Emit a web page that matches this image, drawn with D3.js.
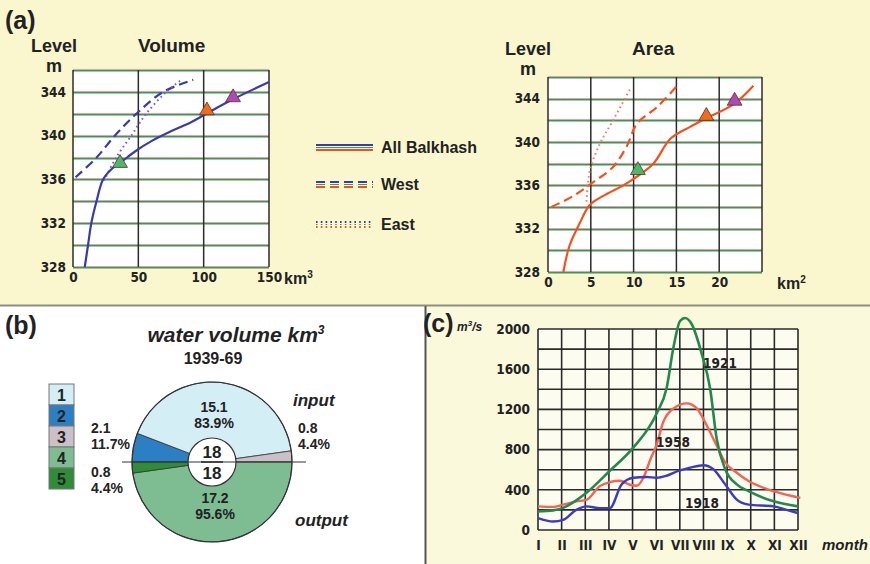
<!DOCTYPE html>
<html>
<head>
<meta charset="utf-8">
<script src="https://cdnjs.cloudflare.com/ajax/libs/d3/7.8.5/d3.min.js"></script>
<style>
  body { margin: 0; background: #fff; }
  svg { display: block; }
  text { font-family: "Liberation Sans", Arial, sans-serif; font-weight: bold; fill: #222; }
  text.cond { font-family: "DejaVu Sans Condensed", "Liberation Sans Narrow", sans-serif; }
</style>
</head>
<body>
<svg id="chart"></svg>
<script>
// ---- (a) level / volume / area curves ----
var levelTicks = [328, 332, 336, 340, 344];
var volTicks = [0, 50, 100, 150];
var areaTicks = [0, 5, 10, 15, 20];

var volAllX = [9, 11.5, 14, 18, 23, 30, 37, 48, 60, 75, 90, 102, 122, 150];
var volAllY = [328, 330, 332, 334, 336, 337, 337.6, 338.6, 339.5, 340.4, 341.2, 342, 343.3, 344.9];
var volWestX = [2, 18, 32, 48.5, 69, 92];
var volWestY = [336.2, 338, 340, 342, 344, 345.1];
var volEastX = [23.7, 33, 44.6, 56, 71.4, 83];
var volEastY = [335.9, 338, 340, 342, 344, 345.1];
var volMarkX = [36, 102.5, 122.5];
var volMarkY = [337.4, 342.2, 343.4];

var areaAllX = [1.8, 2.5, 3.7, 4.9, 6.4, 8.8, 10.0, 12.3, 14.3, 16.6, 18.5, 21.7, 24.0];
var areaAllY = [328, 330.4, 332.5, 334.2, 335.0, 336.0, 336.6, 338.0, 340.3, 341.4, 342.2, 343.5, 345.2];
var areaWestX = [0.4, 2.9, 5.3, 7.6, 9.2, 10.4, 12.7, 15.0];
var areaWestY = [334.0, 335.0, 336.3, 337.7, 339.6, 341.7, 343.2, 345.1];
var areaEastX = [4.5, 4.9, 6.1, 7.6, 9.6];
var areaEastY = [334.5, 337.4, 339.9, 342.0, 344.9];
var areaMarkX = [10.5, 18.5, 21.8];
var areaMarkY = [337.3, 342.3, 343.7];

var markColors = ["#4cb86a", "#f26a1b", "#b048b8"];
var legendNames = ["All Balkhash", "West", "East"];

// ---- (b) water balance 1939-69 ----
var inputIds = [2, 1, 3];
var inputValues = [2.1, 15.1, 0.8];
var inputPct = ["11.7%", "83.9%", "4.4%"];
var outputIds = [4, 5];
var outputValues = [17.2, 0.8];
var outputPct = ["95.6%", "4.4%"];
var pieColors = {1: "#d4eef6", 2: "#2c7fc3", 3: "#cbbfc8", 4: "#7dbd91", 5: "#2f8c38"};

// ---- (c) monthly discharge ----
var monthLabels = ["I", "II", "III", "IV", "V", "VI", "VII", "VIII", "IX", "X", "XI", "XII"];
var flowTicks = [0, 400, 800, 1200, 1600, 2000];
var m1921 = [1, 1.64, 2.06, 3.05, 4.04, 5.03, 6.02, 6.44, 6.73, 7.01, 7.22, 7.5, 7.93, 8.28, 8.56, 8.92, 9.41, 9.91, 10.97, 12];
var q1921 = [185, 195, 220, 370, 590, 820, 1160, 1410, 1815, 2080, 2110, 2050, 1750, 1410, 907, 605, 454, 386, 285, 235];
var m1958 = [1, 1.64, 2.06, 2.62, 3.05, 3.62, 4.04, 4.46, 4.89, 5.17, 5.46, 5.75, 6.02, 6.3, 6.73, 7.3, 7.72, 8.14, 8.56, 8.92, 9.41, 9.91, 10.97, 12.1];
var q1958 = [235, 230, 252, 285, 300, 437, 477, 490, 450, 440, 520, 700, 850, 1075, 1210, 1260, 1210, 1040, 840, 672, 570, 487, 386, 319];
var m1918 = [1, 1.64, 2.06, 2.62, 3.05, 3.62, 4.04, 4.54, 5.03, 5.59, 6.02, 6.44, 6.94, 7.44, 8, 8.42, 8.92, 9.41, 9.91, 10.97, 11.52, 12];
var q1918 = [118, 84, 100, 200, 235, 218, 218, 454, 520, 527, 520, 540, 588, 620, 645, 605, 454, 302, 252, 235, 200, 168];

var w = 870;
var h = 564;

var svg = d3.select("#chart")
  .attr("width", w)
  .attr("height", h);

// panel backgrounds
svg.append("rect").attr("x", 0).attr("y", 0).attr("width", w).attr("height", 306).attr("fill", "#faf7cf");
svg.append("rect").attr("x", 426).attr("y", 306).attr("width", w - 426).attr("height", h - 306).attr("fill", "#fbf9dc");
svg.append("line").attr("x1", 0).attr("x2", w).attr("y1", 305.5).attr("y2", 305.5)
  .attr("stroke", "#8d8d84").attr("stroke-width", 2);
svg.append("line").attr("x1", 425.5).attr("x2", 425.5).attr("y1", 306).attr("y2", h)
  .attr("stroke", "#555").attr("stroke-width", 2);

function pairs(xs, ys) {
  return xs.map(function(d, i) { return [d, ys[i]]; });
}

function levelChart(cfg) {
  var x = d3.scaleLinear().domain(cfg.xDomain).range(cfg.xRange);
  var y = d3.scaleLinear().domain([328, 346]).range(cfg.yRange);
  var g = svg.append("g");

  g.append("rect")
    .attr("x", cfg.xRange[0]).attr("y", cfg.yRange[1])
    .attr("width", cfg.xRange[1] - cfg.xRange[0])
    .attr("height", cfg.yRange[0] - cfg.yRange[1])
    .attr("fill", "#fff");

  // horizontal grid: green line with a soft pink fringe (like the scan)
  var levels = d3.range(328, 347, 2);
  g.selectAll(".hred").data(levels).enter().append("line")
    .attr("x1", cfg.xRange[0]).attr("x2", cfg.xRange[1])
    .attr("y1", function(d) { return Math.round(y(d)) - 0.5; })
    .attr("y2", function(d) { return Math.round(y(d)) - 0.5; })
    .attr("stroke", "#e8a0b0").attr("stroke-width", 1);
  g.selectAll(".hgrn").data(levels).enter().append("line")
    .attr("x1", cfg.xRange[0]).attr("x2", cfg.xRange[1])
    .attr("y1", function(d) { return Math.round(y(d)) + 0.75; })
    .attr("y2", function(d) { return Math.round(y(d)) + 0.75; })
    .attr("stroke", "#3a9852").attr("stroke-width", 1.5);

  g.selectAll(".vgr").data(cfg.grid).enter().append("line")
    .attr("x1", function(d) { return x(d); }).attr("x2", function(d) { return x(d); })
    .attr("y1", cfg.yRange[1]).attr("y2", cfg.yRange[0])
    .attr("stroke", "#2b2b2b").attr("stroke-width", 1.5);

  var yAxis = g.append("g")
    .attr("transform", "translate(" + cfg.xRange[0] + ",0)")
    .call(d3.axisLeft(y).tickValues(levelTicks).tickSize(0).tickPadding(cfg.pad).tickFormat(d3.format("d")));
  var xAxis = g.append("g")
    .attr("transform", "translate(0," + cfg.yRange[0] + ")")
    .call(d3.axisBottom(x).tickValues(cfg.xTicks).tickSize(0).tickPadding(5).tickFormat(d3.format("d")));
  [yAxis, xAxis].forEach(function(a) {
    a.select(".domain").remove();
    a.selectAll("text").attr("class", "cond")
      .style("font-size", "13.5px").style("font-weight", "bold")
      .attr("fill", "#3a1c18").attr("font-family", null);
  });

  var line = d3.line()
    .x(function(d) { return x(d[0]); })
    .y(function(d) { return y(d[1]); })
    .curve(d3.curveCatmullRom);

  g.append("path").datum(pairs(cfg.westX, cfg.westY))
    .attr("d", line).attr("fill", "none").attr("stroke", cfg.color)
    .attr("stroke-width", 2.2).attr("stroke-dasharray", "9,5");
  g.append("path").datum(pairs(cfg.eastX, cfg.eastY))
    .attr("d", line).attr("fill", "none").attr("stroke", cfg.eastColor)
    .attr("stroke-width", 2).attr("stroke-dasharray", "1.6,3.2");
  g.append("path").datum(pairs(cfg.allX, cfg.allY))
    .attr("d", line).attr("fill", "none").attr("stroke", cfg.color)
    .attr("stroke-width", 2.2);

  g.selectAll(".mark").data(pairs(cfg.markX, cfg.markY)).enter().append("path")
    .attr("d", d3.symbol().type(d3.symbolTriangle).size(95))
    .attr("transform", function(d) { return "translate(" + x(d[0]) + "," + (y(d[1]) - 1) + ")"; })
    .attr("fill", function(d, i) { return markColors[i]; })
    .attr("stroke", "#5a3020").attr("stroke-width", 0.8);

  g.append("text").attr("x", cfg.levelX).attr("y", cfg.titleY).style("font-size", "18px").text("Level");
  g.append("text").attr("x", cfg.levelX + 15).attr("y", cfg.titleY + 20).style("font-size", "18px").text("m");
  g.append("text").attr("x", cfg.titleX).attr("y", cfg.titleY).style("font-size", "19px").text(cfg.title);
  var u = g.append("text").attr("x", cfg.xRange[1] + 15).attr("y", cfg.yRange[0] + 17)
    .style("font-size", "16px").text("km");
  u.append("tspan").attr("dy", -6).style("font-size", "10px").text(cfg.unitPow);
}

levelChart({
  xDomain: [0, 150], xRange: [73, 269], yRange: [267, 70],
  grid: [0, 50, 100, 150], xTicks: volTicks, pad: 7,
  allX: volAllX, allY: volAllY, westX: volWestX, westY: volWestY,
  eastX: volEastX, eastY: volEastY, markX: volMarkX, markY: volMarkY,
  color: "#3a3ab0", eastColor: "#7a58c8",
  title: "Volume", titleX: 138, titleY: 52, levelX: 31, unitPow: "3"
});

levelChart({
  xDomain: [0, 25], xRange: [548, 762], yRange: [272, 77],
  grid: [0, 5, 10, 15, 20, 25], xTicks: areaTicks, pad: 8,
  allX: areaAllX, allY: areaAllY, westX: areaWestX, westY: areaWestY,
  eastX: areaEastX, eastY: areaEastY, markX: areaMarkX, markY: areaMarkY,
  color: "#f5501e", eastColor: "#f27a6a",
  title: "Area", titleX: 632, titleY: 55, levelX: 505, unitPow: "2"
});

svg.append("text").attr("x", 5).attr("y", 29).style("font-size", "25px").text("(a)");

// legend (a)
var legendDash = [null, "9,5", "1.6,3.2"];
var legendY = [145, 182, 222];
var lg = svg.append("g");
legendNames.forEach(function(name, i) {
  [["#3a3ab0", 0], ["#2e9a7a", 2.5], ["#f5501e", 5]].forEach(function(s) {
    lg.append("line")
      .attr("x1", 316).attr("x2", 373)
      .attr("y1", legendY[i] + s[1]).attr("y2", legendY[i] + s[1])
      .attr("stroke", s[0]).attr("stroke-width", s[1] === 2.5 ? 1 : 2.2)
      .attr("stroke-dasharray", legendDash[i]);
  });
  lg.append("text").attr("x", 381).attr("y", legendY[i] + 8)
    .style("font-size", "16px").text(name);
});

// ---- panel (b) ----
var cx = 212, cy = 462, r = 80;
var pb = svg.append("g");
pb.append("text").attr("x", 5).attr("y", 334).style("font-size", "25px").text("(b)");
var tt = pb.append("text").attr("x", 236).attr("y", 342).attr("text-anchor", "middle")
  .style("font-size", "21px").style("font-style", "italic").text("water volume km");
tt.append("tspan").attr("dy", -8).style("font-size", "12px").text("3");
pb.append("text").attr("x", 213).attr("y", 364).attr("text-anchor", "middle")
  .style("font-size", "16px").text("1939-69");

var arc = d3.arc().innerRadius(0).outerRadius(r);
var inPie = d3.pie().sort(null).startAngle(-Math.PI / 2).endAngle(Math.PI / 2);
var outPie = d3.pie().sort(null).startAngle(Math.PI / 2).endAngle(3 * Math.PI / 2);

var pieG = pb.append("g").attr("transform", "translate(" + cx + "," + cy + ")");
pieG.selectAll(".in").data(inPie(inputValues)).enter().append("path")
  .attr("d", arc)
  .attr("fill", function(d, i) { return pieColors[inputIds[i]]; })
  .attr("stroke", "#333").attr("stroke-width", 0.8);
pieG.selectAll(".out").data(outPie(outputValues)).enter().append("path")
  .attr("d", arc)
  .attr("fill", function(d, i) { return pieColors[outputIds[i]]; })
  .attr("stroke", "#333").attr("stroke-width", 0.8);
pieG.append("circle").attr("r", r).attr("fill", "none").attr("stroke", "#333").attr("stroke-width", 1.2);
pb.append("line").attr("x1", 122).attr("x2", 306).attr("y1", cy).attr("y2", cy)
  .attr("stroke", "#333").attr("stroke-width", 1.2);
pieG.append("circle").attr("r", 24).attr("fill", "#fff").attr("stroke", "#333").attr("stroke-width", 1.2);
pieG.append("line").attr("x1", -11).attr("x2", 11).attr("y1", 0).attr("y2", 0).attr("stroke", "#222").attr("stroke-width", 1.5);
pieG.append("text").attr("y", -4).attr("text-anchor", "middle").style("font-size", "17px").text("18");
pieG.append("text").attr("y", 17).attr("text-anchor", "middle").style("font-size", "17px").text("18");

function twoLine(x, y, a, b, anchor) {
  pb.append("text").attr("x", x).attr("y", y).attr("text-anchor", anchor).style("font-size", "14px").text(a);
  pb.append("text").attr("x", x).attr("y", y + 16).attr("text-anchor", anchor).style("font-size", "14px").text(b);
}
twoLine(214, 412, inputValues[1], inputPct[1], "middle");
twoLine(91, 433, inputValues[0], inputPct[0], "start");
twoLine(298, 433, inputValues[2], inputPct[2], "start");
twoLine(91, 477, outputValues[1], outputPct[1], "start");
twoLine(215, 503, outputValues[0], outputPct[0], "middle");
pb.append("text").attr("x", 293).attr("y", 406).style("font-size", "17px").style("font-style", "italic").text("input");
pb.append("text").attr("x", 295).attr("y", 526).style("font-size", "17px").style("font-style", "italic").text("output");

// legend boxes (b)
var boxIds = [1, 2, 3, 4, 5];
var boxY = d3.scaleBand().domain(boxIds).range([384, 489]);
pb.selectAll(".box").data(boxIds).enter().append("rect")
  .attr("x", 49).attr("y", function(d) { return boxY(d); })
  .attr("width", 25).attr("height", boxY.bandwidth())
  .attr("fill", function(d) { return pieColors[d]; })
  .attr("stroke", "#777").attr("stroke-width", 1);
pb.selectAll(".boxt").data(boxIds).enter().append("text")
  .attr("x", 61.5).attr("y", function(d) { return boxY(d) + boxY.bandwidth() / 2 + 6; })
  .attr("text-anchor", "middle").style("font-size", "16px").text(function(d) { return d; });

// ---- panel (c) ----
var xM = d3.scaleLinear().domain([1, 12]).range([538, 798]);
var yQ = d3.scaleLinear().domain([0, 2000]).range([530, 329]);
var pc = svg.append("g");
pc.append("rect").attr("x", 538).attr("y", 329).attr("width", 260).attr("height", 201).attr("fill", "#fdfcf1");
pc.selectAll(".qg").data(d3.range(0, 2001, 200)).enter().append("line")
  .attr("x1", 538).attr("x2", 798)
  .attr("y1", function(d) { return yQ(d); }).attr("y2", function(d) { return yQ(d); })
  .attr("stroke", "#2a2a2a").attr("stroke-width", 1.6);
pc.selectAll(".mg").data(d3.range(1, 13)).enter().append("line")
  .attr("x1", function(d) { return xM(d); }).attr("x2", function(d) { return xM(d); })
  .attr("y1", 329).attr("y2", 530)
  .attr("stroke", "#2a2a2a").attr("stroke-width", 1.6);

var qAxis = pc.append("g").attr("transform", "translate(538,0)")
  .call(d3.axisLeft(yQ).tickValues(flowTicks).tickSize(0).tickPadding(8).tickFormat(d3.format("d")));
var mAxis = pc.append("g").attr("transform", "translate(0,530)")
  .call(d3.axisBottom(xM).tickValues(d3.range(1, 13)).tickSize(0).tickPadding(10)
    .tickFormat(function(d) { return monthLabels[d - 1]; }));
[qAxis, mAxis].forEach(function(a) {
  a.select(".domain").remove();
  a.selectAll("text").attr("class", "cond").attr("font-family", null)
    .style("font-size", "13.5px").style("font-weight", "bold").attr("fill", "#222");
});

var qLine = d3.line()
  .x(function(d) { return xM(d[0]); })
  .y(function(d) { return yQ(d[1]); })
  .curve(d3.curveMonotoneX);
pc.append("path").datum(pairs(m1958, q1958)).attr("d", qLine)
  .attr("fill", "none").attr("stroke", "#f46455").attr("stroke-width", 2.4);
pc.append("path").datum(pairs(m1918, q1918)).attr("d", qLine)
  .attr("fill", "none").attr("stroke", "#3b3bc4").attr("stroke-width", 2.4);
pc.append("path").datum(pairs(m1921, q1921)).attr("d", qLine)
  .attr("fill", "none").attr("stroke", "#24884c").attr("stroke-width", 2.6);

pc.append("text").attr("class", "cond").attr("x", 720).attr("y", 368).attr("text-anchor", "middle").style("font-size", "13.5px").text("1921");
pc.append("text").attr("class", "cond").attr("x", 673).attr("y", 447).attr("text-anchor", "middle").style("font-size", "13.5px").text("1958");
pc.append("text").attr("class", "cond").attr("x", 702).attr("y", 508).attr("text-anchor", "middle").style("font-size", "13.5px").text("1918");

pc.append("text").attr("x", 423).attr("y", 332).style("font-size", "25px").text("(c)");
var mu = pc.append("text").attr("x", 457).attr("y", 331).style("font-size", "12px").style("font-style", "italic").text("m");
mu.append("tspan").attr("dy", -5).style("font-size", "8px").text("3");
mu.append("tspan").attr("dy", 5).text("/s");
pc.append("text").attr("x", 822).attr("y", 550).style("font-size", "15px").style("font-style", "italic").text("month");
</script>
</body>
</html>
